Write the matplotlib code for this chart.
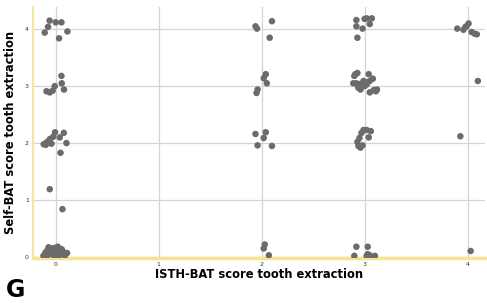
import matplotlib.pyplot as plt

# ISTH-BAT (x) vs Self-BAT (y), jittered points
isth_x = [
    # x=0, y~4
    -0.06, 0.0, 0.055, -0.075, -0.107, 0.113, 0.032,
    # x=0, y~3
    -0.09, -0.058, -0.03, -0.01, 0.058, 0.08, 0.055,
    # x=0, y~2
    -0.007, 0.078, 0.039, -0.026, -0.058, -0.084, -0.117, -0.097, -0.042, 0.104, 0.046,
    # x=0, y~1
    -0.058, 0.065,
    # x=0, y~0
    -0.12, -0.10, -0.08, -0.06, -0.04, -0.02, 0.0, 0.02, 0.04, 0.06, 0.08, 0.11,
    -0.09, -0.05, -0.01, 0.03, 0.07, -0.07, 0.01, 0.05, -0.03, 0.09,
    # x=2
    1.94, 1.955, 2.10, 2.078,
    2.04, 2.02, 2.05, 1.96, 1.95,
    1.94, 2.04, 2.02, 1.96, 2.10,
    2.03, 2.02, 2.07,
    # x=3, y~4
    2.92, 3.0, 3.02, 3.07, 3.05, 2.92, 2.98, 2.93,
    # x=3, y~3
    2.91, 2.93, 2.90, 3.04, 3.08, 2.99, 3.03, 3.05, 2.89, 2.92, 2.96, 2.94,
    3.00, 3.02, 3.05, 3.09, 3.11, 3.12, 2.96, 2.94,
    # x=3, y~2
    2.99, 3.02, 3.06, 3.04, 2.97, 2.95, 2.93, 2.94, 2.96, 2.98,
    # x=3, y~0
    2.92, 3.03, 2.90, 3.03, 3.05, 3.10, 3.02,
    # x=4
    3.90, 3.96, 3.98, 4.01, 3.99, 4.04, 4.07, 4.09, 4.10, 3.93, 4.03,
]
self_y = [
    4.15, 4.12, 4.12, 4.04, 3.94, 3.96, 3.84,
    2.91, 2.89, 2.92, 3.00, 3.05, 2.94, 3.18,
    2.19, 2.18, 2.10, 2.11, 2.07, 2.02, 1.98, 1.97, 1.99, 2.00, 1.83,
    1.19, 0.84,
    0.02, 0.08, 0.12, 0.05, 0.15, 0.03, 0.10, 0.18, 0.06, 0.13, 0.04, 0.07,
    0.01, 0.11, 0.16, 0.02, 0.09, 0.17, 0.04, 0.14, 0.08, 0.03,
    4.05, 4.01, 4.14, 3.85,
    3.21, 3.14, 3.05, 2.94, 2.88,
    2.16, 2.19, 2.09, 1.96, 1.95,
    0.22, 0.15, 0.03,
    4.16, 4.18, 4.19, 4.19, 4.09, 4.05, 4.01, 3.85,
    3.21, 3.23, 3.18, 3.21, 3.13, 3.09, 3.07, 3.09, 3.05, 3.05, 3.04, 2.99,
    3.00, 3.03, 2.89, 2.93, 2.91, 2.94, 2.94, 2.97,
    2.23, 2.23, 2.21, 2.10, 2.18, 2.09, 2.02, 1.95, 1.92, 1.96,
    0.18, 0.18, 0.02, 0.05, 0.03, 0.02, 0.02,
    4.01, 3.99, 4.04, 4.10, 4.05, 3.95, 3.92, 3.91, 3.09, 2.12, 0.105,
]
ticks = [0, 1, 2, 3, 4]

fig = plt.figure(figsize=(4.87, 3.03), dpi=100)
ax = fig.add_axes([0.068, 0.149, 0.928, 0.828])

ax.scatter(isth_x, self_y, s=22, color="#6b6b6b", edgecolors="none", zorder=3)

ax.set_xlim(-0.22, 4.17)
ax.set_ylim(-0.015, 4.39)
ax.set_xticks(ticks)
ax.set_yticks(ticks)
ax.tick_params(labelsize=4.5, length=0, pad=3, colors="#333333")
ax.grid(True, color="#d4d4d4", linewidth=0.9)
ax.set_axisbelow(True)

for side in ["top", "right"]:
    ax.spines[side].set_visible(False)
ax.spines["left"].set_color("#f3e6a6")
ax.spines["left"].set_linewidth(1.5)
ax.spines["bottom"].set_color("#f6e48f")
ax.spines["bottom"].set_linewidth(2.5)

ax.set_xlabel("ISTH-BAT score tooth extraction", fontsize=8.3, fontweight="bold", labelpad=0.5)
ax.set_ylabel("Self-BAT score tooth extraction", fontsize=8.3, fontweight="bold", labelpad=6)

fig.text(0.012, 0.02, "G", fontsize=17, fontweight="bold")

plt.savefig("out.png", dpi=100)
